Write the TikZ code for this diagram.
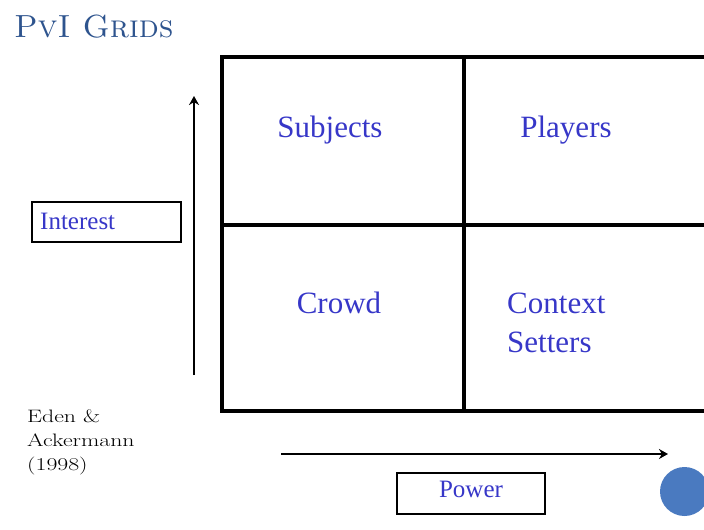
\documentclass[tikz,border=0pt]{standalone}
\usepackage{fontspec}
\usepackage{graphicx}
\newfontfamily\labelfont{Liberation Serif}
\usetikzlibrary{arrows.meta}
\definecolor{titleblue}{RGB}{46,84,142}
\definecolor{labelblue}{RGB}{55,55,200}
\definecolor{dotblue}{RGB}{74,122,192}
\tikzset{
  gridline/.style={line width=3.2pt, black},
  axis/.style={line width=2.6pt, -{Stealth[length=9pt,width=10pt]}},
  quad/.style={font=\labelfont\fontsize{31}{39}\selectfont, text=labelblue, inner sep=0pt},
  axislabel/.style={draw, line width=1.5pt, inner sep=0pt},
  axistext/.style={font=\labelfont\fontsize{25}{28}\selectfont, text=labelblue, inner sep=0pt},
}
\begin{document}
\begin{tikzpicture}[x=1pt,y=-1pt]
\useasboundingbox (0,0) rectangle (704,530);
% title
\node[anchor=base west, inner sep=0pt, text=titleblue, font=\fontsize{32}{36}\selectfont] (title) at (14,37) {\textsc{PvI Grids}};
% 2x2 grid
\coordinate (tl) at (222,57);
\coordinate (br) at (710,411);
\draw[gridline] (tl) rectangle (br);
\coordinate (vt) at (464,57);
\coordinate (vb) at (464,411);
\coordinate (hl) at (222,225);
\coordinate (hr) at (710,225);
\draw[gridline] (vt) -- (vb);
\draw[gridline] (hl) -- (hr);
% quadrant names
\node[quad, anchor=base] (subjects) at (330,137.5) {Subjects};
\node[quad, anchor=base] (players) at (566,137.5) {Players};
\node[quad, anchor=base] (crowd) at (339,313) {Crowd};
\node[quad, anchor=base west] (context) at (507,313) {Context};
\node[quad, anchor=base west] (setters) at (507,352) {Setters};
% axes
\coordinate (ibot) at (194,375);
\coordinate (itop) at (194,96);
\draw[axis] (ibot) -- (itop);
\coordinate (pl) at (281,454);
\coordinate (pr) at (668,454);
\draw[axis] (pl) -- (pr);
% axis labels
\node[axislabel, minimum width=149pt, minimum height=40pt] (interestbox) at (106.5,222) {};
\node[axistext, anchor=base west] (interest) at (40,229) {Interest};
\node[axislabel, minimum width=148pt, minimum height=41pt] (powerbox) at (471,493.5) {};
\node[axistext, anchor=base] (power) at (471,497) {Power};
% reference
\node[anchor=base west, inner sep=0pt, font=\fontsize{18}{24}\selectfont] (ref) at (27,422)
  {\scalebox{1.32}[1]{\begin{tabular}[t]{@{}l@{}}Eden \&\\Ackermann\\(1998)\end{tabular}}};
% page marker dot
\fill[dotblue] (684.5,491.5) circle (24.5pt);
\end{tikzpicture}
\end{document}
